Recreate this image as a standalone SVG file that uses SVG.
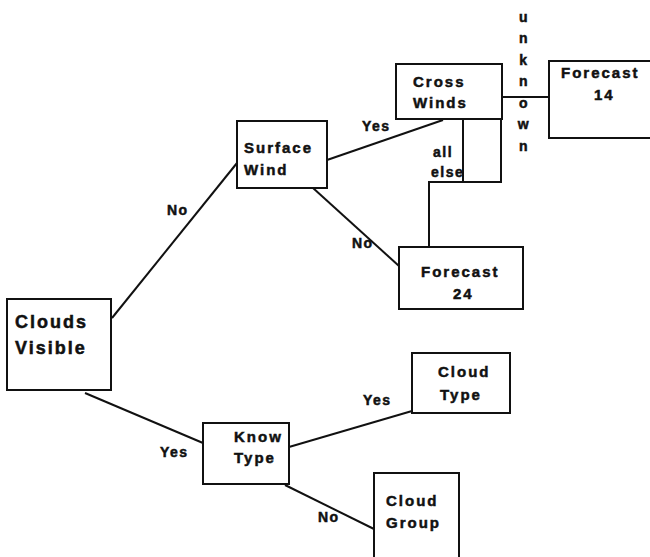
<svg xmlns="http://www.w3.org/2000/svg" width="650" height="557" viewBox="0 0 650 557">
<style>
.box{fill:#fff;stroke:#111;stroke-width:2}
.ln{fill:none;stroke:#111;stroke-width:2}
text{font-family:"Liberation Sans",Arial,sans-serif;font-weight:bold;font-size:15px;letter-spacing:2px;fill:#111;stroke:#111;stroke-width:0.5px}
.big{font-size:18px;letter-spacing:2px}
.lbl{font-size:14px;letter-spacing:1.5px}
</style>
<rect width="650" height="557" fill="#fff"/>
<g id="connectors">
<line class="ln" x1="112" y1="318" x2="237" y2="163"/>
<line class="ln" x1="327" y1="160" x2="443" y2="120"/>
<line class="ln" x1="313" y1="188" x2="399" y2="266"/>
<line class="ln" x1="502" y1="97" x2="549" y2="97"/>
<polyline class="ln" points="463,119 463,182"/>
<polyline class="ln" points="501,119 501,182 429,182 429,247"/>
<line class="ln" x1="85" y1="393" x2="203" y2="443"/>
<line class="ln" x1="289" y1="447" x2="412" y2="411"/>
<line class="ln" x1="285" y1="485" x2="374" y2="529"/>
<text class="lbl" x="167" y="215">No</text>
<text class="lbl" x="362" y="131">Yes</text>
<text class="lbl" x="352" y="248">No</text>
<text class="lbl" x="160" y="457">Yes</text>
<text class="lbl" x="363" y="405">Yes</text>
<text class="lbl" x="318" y="522">No</text>
<text class="lbl" x="433" y="157">all</text>
<text class="lbl" x="431" y="177">else</text>
<g>
<text class="lbl" x="524" y="22" text-anchor="middle">u</text>
<text class="lbl" x="524" y="43" text-anchor="middle">n</text>
<text class="lbl" x="524" y="65" text-anchor="middle">k</text>
<text class="lbl" x="524" y="86" text-anchor="middle">n</text>
<text class="lbl" x="524" y="108" text-anchor="middle">o</text>
<text class="lbl" x="524" y="129" text-anchor="middle">w</text>
<text class="lbl" x="524" y="151" text-anchor="middle">n</text>
</g>
</g>
<g id="clouds-visible">
<rect class="box" x="7" y="299" width="104" height="91"/>
<text class="big" x="15" y="328">Clouds</text>
<text class="big" x="15" y="354">Visible</text>
</g>
<g id="surface-wind">
<rect class="box" x="237" y="121" width="90" height="67"/>
<text x="244" y="153">Surface</text>
<text x="244" y="175">Wind</text>
</g>
<g id="cross-winds">
<rect class="box" x="396" y="64" width="106" height="55"/>
<text x="413" y="87">Cross</text>
<text x="413" y="108">Winds</text>
</g>
<g id="forecast-14">
<rect class="box" x="549" y="61" width="110" height="77"/>
<text x="561" y="78">Forecast</text>
<text x="594" y="100">14</text>
</g>
<g id="forecast-24">
<rect class="box" x="399" y="247" width="124" height="62"/>
<text x="421" y="277">Forecast</text>
<text x="453" y="299">24</text>
</g>
<g id="know-type">
<rect class="box" x="203" y="423" width="86" height="61"/>
<text x="234" y="442">Know</text>
<text x="234" y="463">Type</text>
</g>
<g id="cloud-type">
<rect class="box" x="412" y="353" width="98" height="60"/>
<text x="438" y="377">Cloud</text>
<text x="440" y="400">Type</text>
</g>
<g id="cloud-group">
<rect class="box" x="374" y="473" width="85" height="100"/>
<text x="386" y="506">Cloud</text>
<text x="386" y="528">Group</text>
</g>
</svg>
